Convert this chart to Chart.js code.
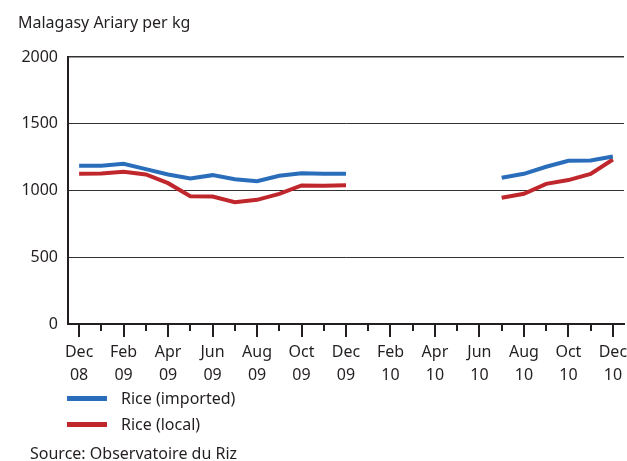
<!DOCTYPE html>
<html>
<head>
<meta charset="utf-8">
<script src="https://cdn.jsdelivr.net/npm/chart.js@4"></script>
<style>
  body { margin: 0; background: #fff; font-family: "Noto Sans", sans-serif; color: #231f20; }
  #wrap { position: relative; width: 627px; height: 461px; }
  #chart { position: absolute; left: 0; top: 0; }
  .title { position: absolute; left: 18px; top: 11px; font-size: 16px; }
  .legend-item { position: absolute; left: 67px; font-size: 16px; height: 20px; line-height: 20px; }
  .legend-item .swatch { position: absolute; left: 0; top: 8px; width: 40px; height: 5px; }
  .legend-item .label { position: absolute; left: 54px; top: 0; white-space: nowrap; }
  .source { position: absolute; left: 30px; top: 442px; font-size: 16px; }
</style>
</head>
<body>
<div id="wrap">
  <canvas id="chart" width="627" height="400"></canvas>
  <div class="title">Malagasy Ariary per kg</div>
  <div id="legend"></div>
  <div class="source">Source: Observatoire du Riz</div>
</div>
<script>
// months Dec 08 .. Dec 10
const monthNames = ['Dec','Jan','Feb','Mar','Apr','May','Jun','Jul','Aug','Sep','Oct','Nov',
                    'Dec','Jan','Feb','Mar','Apr','May','Jun','Jul','Aug','Sep','Oct','Nov','Dec'];
const monthYears = ['08','09','09','09','09','09','09','09','09','09','09','09',
                    '09','10','10','10','10','10','10','10','10','10','10','10','10'];

// prices, no data Jan 10 - Jun 10
const riceImported = [1185, 1185, 1200, 1160, 1120, 1090, 1115, 1085, 1070, 1110, 1130, 1125, 1125,
                      null, null, null, null, null, null,
                      1095, 1125, 1178, 1222, 1225, 1255];
const riceLocal = [1125, 1128, 1140, 1120, 1055, 957, 955, 912, 930, 975, 1038, 1035, 1040,
                   null, null, null, null, null, null,
                   945, 975, 1050, 1078, 1125, 1232];

const yTicks = [0, 500, 1000, 1500, 2000];

const seriesNames = ['Rice (imported)', 'Rice (local)'];
const seriesColors = ['#2a6ebb', '#c0272d'];

const labels = monthNames.map((m, i) => m + ' ' + monthYears[i]);

// little plugin for the month tick marks (long every 2 months)
const tickMarks = {
  id: 'tickMarks',
  afterDraw(chart) {
    const xs = chart.scales.x;
    const ctx = chart.ctx;
    const yBase = chart.chartArea.bottom;
    ctx.save();
    ctx.strokeStyle = '#231f20';
    ctx.lineWidth = 2;
    for (let i = 0; i < labels.length; i++) {
      const x = Math.round(xs.getPixelForTick(i));
      const len = i % 2 === 0 ? 13 : 7;
      ctx.beginPath();
      ctx.moveTo(x, yBase);
      ctx.lineTo(x, yBase + len);
      ctx.stroke();
    }
    ctx.restore();
  }
};

document.addEventListener('DOMContentLoaded', function() {
  const ctx = document.getElementById('chart');

  new Chart(ctx, {
    type: 'line',
    data: {
      labels: labels,
      datasets: [
        { label: seriesNames[0], data: riceImported, borderColor: seriesColors[0] },
        { label: seriesNames[1], data: riceLocal, borderColor: seriesColors[1] }
      ]
    },
    options: {
      responsive: false,
      animation: false,
      spanGaps: false,
      layout: { padding: { top: 57, right: 3, left: 0, bottom: 0 } },
      elements: {
        line: { borderWidth: 4, tension: 0, borderCapStyle: 'butt', fill: false },
        point: { radius: 0, hoverRadius: 0 }
      },
      plugins: {
        legend: { display: false },
        tooltip: { enabled: false }
      },
      scales: {
        x: {
          type: 'category',
          offset: true,
          // fixed height, and no extra side padding for the end labels
          afterFit: s => { s.height = 76; s.paddingLeft = 0; s.paddingRight = 0; },
          grid: { display: true, drawOnChartArea: false, drawTicks: false },
          border: { display: true, color: '#231f20', width: 2 },
          ticks: {
            autoSkip: false,
            maxRotation: 0,
            padding: 17,
            color: '#231f20',
            font: { family: 'Noto Sans', size: 16, lineHeight: 1.45 },
            callback: function(val, i) {
              return i % 2 === 0 ? [monthNames[i], monthYears[i]] : '';
            }
          }
        },
        y: {
          min: 0,
          max: 2000,
          afterFit: s => { s.width = 68; },
          afterBuildTicks: s => { s.ticks = yTicks.map(v => ({ value: v })); },
          grid: {
            drawTicks: false,
            color: ctx => ctx.tick && ctx.tick.value === 0 ? 'rgba(0,0,0,0)' : '#333',
            lineWidth: ctx => ctx.tick && ctx.tick.value === 2000 ? 1.5 : 1
          },
          border: { display: true, color: '#231f20', width: 2 },
          ticks: {
            padding: 10,
            color: '#231f20',
            font: { family: 'Noto Sans', size: 16 },
            callback: v => String(v)
          }
        }
      }
    },
    plugins: [tickMarks]
  });

  // legend below the chart
  const legend = document.getElementById('legend');
  seriesNames.forEach((name, i) => {
    const item = document.createElement('div');
    item.className = 'legend-item';
    item.style.top = (388 + i * 26) + 'px';
    item.innerHTML = '<span class="swatch" style="background:' + seriesColors[i] + '"></span>' +
                     '<span class="label">' + name + '</span>';
    legend.appendChild(item);
  });
});
</script>
</body>
</html>
